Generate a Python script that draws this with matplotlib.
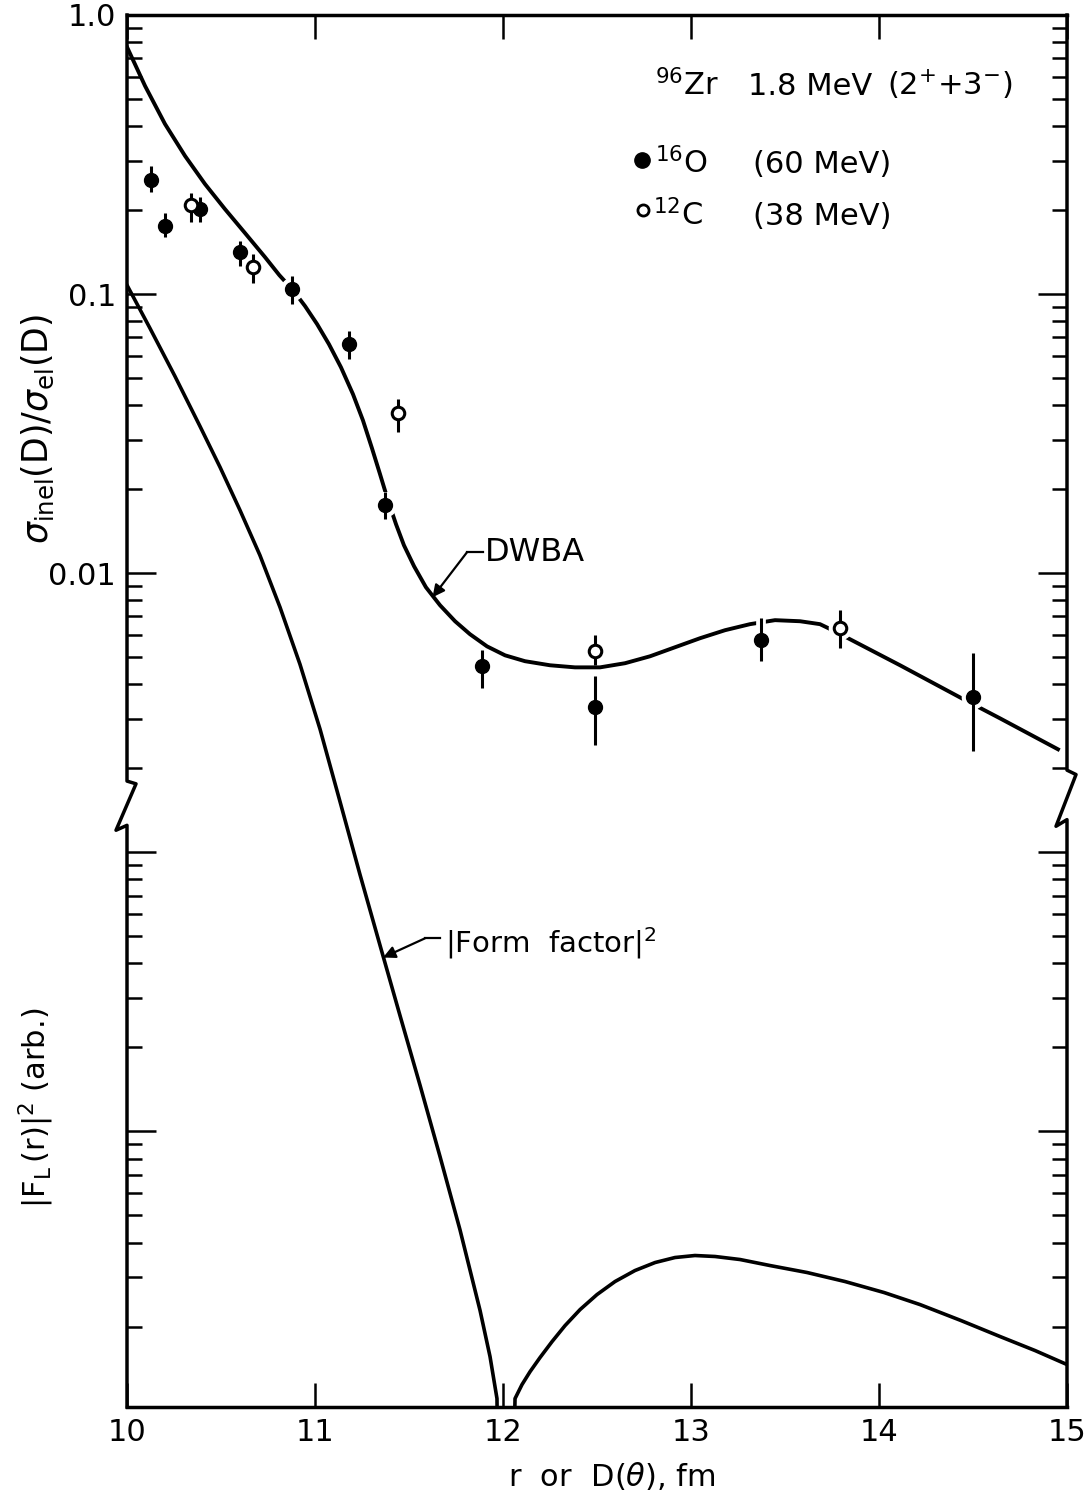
import matplotlib.pyplot as plt
import matplotlib.patheffects as pe
import numpy as np
from matplotlib.ticker import FixedLocator, LogLocator, NullFormatter

# DWBA ratio curve, sigma_inel/sigma_el vs D (fm)
dwba_r = [10.0, 10.096, 10.202, 10.309, 10.415, 10.521, 10.628, 10.734, 10.81,
          10.883, 10.947, 11.011, 11.074, 11.138, 11.202, 11.255, 11.303, 11.346,
          11.388, 11.431, 11.473, 11.527, 11.590, 11.665, 11.745, 11.824, 11.915,
          12.011, 12.117, 12.250, 12.383, 12.516, 12.649, 12.782, 12.915, 13.048,
          13.181, 13.314, 13.447, 13.580, 13.686, 13.766, 13.846, 14.112, 14.431,
          14.644, 14.952]
dwba_ratio = [0.768, 0.557, 0.407, 0.3124, 0.2479, 0.2017, 0.1654, 0.1357, 0.117,
              0.1033, 0.0906, 0.0781, 0.0662, 0.0547, 0.0438, 0.0353, 0.02805,
              0.02263, 0.01826, 0.01498, 0.0126, 0.01059, 0.00891, 0.00768, 0.00673,
              0.00605, 0.00547, 0.00508, 0.00484, 0.00468, 0.0046, 0.0046, 0.00476,
              0.00504, 0.00543, 0.00585, 0.00625, 0.00657, 0.00679, 0.00673, 0.00657,
              0.00619, 0.0058, 0.00468, 0.00359, 0.00302, 0.00234]

# |form factor|^2 (arbitrary units), node at r = 12 fm
ff_r = [10.0, 10.122, 10.255, 10.388, 10.495, 10.601, 10.707, 10.814, 10.920,
        11.027, 11.133, 11.239, 11.346, 11.452, 11.559, 11.665, 11.771, 11.878,
        11.931, 11.968, 12.0, 12.064, 12.101, 12.144, 12.197, 12.261, 12.330,
        12.410, 12.5, 12.596, 12.702, 12.809, 12.915, 13.021, 13.128, 13.261,
        13.420, 13.617, 13.819, 14.027, 14.218, 14.436, 14.644, 14.830, 15.0]
ff_val = [0.1077, 0.0755, 0.0508, 0.03364, 0.02398, 0.01682, 0.0116, 0.00755,
          0.00472, 0.00276, 0.00152, 8.34e-4, 4.64e-4, 2.604e-4, 1.462e-4,
          8.13e-5, 4.45e-5, 2.283e-5, 1.561e-5, 1.104e-5, 1e-7, 1.104e-5,
          1.239e-5, 1.379e-5, 1.549e-5, 1.767e-5, 2.016e-5, 2.301e-5, 2.604e-5,
          2.9e-5, 3.175e-5, 3.392e-5, 3.535e-5, 3.594e-5, 3.565e-5, 3.477e-5,
          3.309e-5, 3.124e-5, 2.9e-5, 2.648e-5, 2.398e-5, 2.102e-5, 1.842e-5,
          1.641e-5, 1.462e-5]

# 16O (60 MeV) data with error bar ends
o16_d = [10.13, 10.20, 10.39, 10.60, 10.88, 11.18, 11.37, 11.89, 12.49, 13.37, 14.50]
o16_ratio = [0.257, 0.175, 0.201, 0.141, 0.104, 0.0663, 0.0176, 0.00465, 0.00332,
             0.00576, 0.0036]
o16_lo = [0.233, 0.160, 0.181, 0.126, 0.092, 0.0586, 0.0156, 0.00388, 0.00243,
          0.00485, 0.00231]
o16_hi = [0.287, 0.196, 0.222, 0.155, 0.116, 0.0738, 0.0196, 0.0053, 0.00429,
          0.0069, 0.00518]

# 12C (38 MeV) data
c12_d = [10.34, 10.67, 11.44, 12.49, 13.79]
c12_ratio = [0.208, 0.125, 0.0375, 0.00527, 0.00637]
c12_lo = [0.182, 0.110, 0.032, 0.00469, 0.0054]
c12_hi = [0.231, 0.139, 0.042, 0.0060, 0.00738]

x_ticks = [10, 11, 12, 13, 14, 15]
y_ticks = [1e-4, 1e-3, 1e-2, 1e-1, 1.0]
y_tick_labels = ["", "", "0.01", "0.1", "1.0"]

plt.rcParams["font.family"] = "DejaVu Sans"
plt.rcParams["mathtext.fontset"] = "dejavusans"

fig = plt.figure(figsize=(10.84, 14.99), dpi=100)
ax = fig.add_axes([127 / 1084, 1 - 1407 / 1499, 940 / 1084, 1392 / 1499])
ax.set_yscale("log")
ax.set_xlim(10, 15)
ax.set_ylim(1.03e-5, 1.0)

# curves
ax.plot(dwba_r, dwba_ratio, color="black", lw=2.8, zorder=2,
        solid_joinstyle="round")
ax.plot(ff_r, ff_val, color="black", lw=2.6, zorder=2, solid_joinstyle="round")

# white halos so the curve is broken around the data points
all_d = o16_d + c12_d
all_ratio = o16_ratio + c12_ratio
ax.plot(all_d, all_ratio, linestyle="none", marker="o", ms=16,
        mfc="white", mec="white", zorder=3)

halo = [pe.withStroke(linewidth=7, foreground="white")]
o16_err = [np.array(o16_ratio) - np.array(o16_lo), np.array(o16_hi) - np.array(o16_ratio)]
c12_err = [np.array(c12_ratio) - np.array(c12_lo), np.array(c12_hi) - np.array(c12_ratio)]
for d, v, err in [(o16_d, o16_ratio, o16_err), (c12_d, c12_ratio, c12_err)]:
    eb = ax.errorbar(d, v, yerr=err, fmt="none", ecolor="black", elinewidth=2.2,
                     capsize=0, zorder=4)
    for col in eb[2]:
        col.set_path_effects(halo)
ax.plot(o16_d, o16_ratio, linestyle="none", marker="o", ms=10,
        mfc="black", mec="black", zorder=5)
ax.plot(c12_d, c12_ratio, linestyle="none", marker="o", ms=9,
        mfc="white", mec="black", mew=2.2, zorder=5)

# axes frame with the broken vertical axes
for side in ["left", "right"]:
    ax.spines[side].set_visible(False)
for side in ["top", "bottom"]:
    ax.spines[side].set_linewidth(2.5)
ytr = ax.get_yaxis_transform()
ax.plot([0, 0, 0.0096, -0.0117, 0, 0], [1.0, 1.8e-3, 1.76e-3, 1.2e-3, 1.25e-3, 1.03e-5],
        transform=ytr, color="black", lw=2.5, clip_on=False, zorder=6)
ax.plot([1, 1, 1.0096, 0.9883, 1, 1], [1.0, 1.97e-3, 1.9e-3, 1.24e-3, 1.31e-3, 1.03e-5],
        transform=ytr, color="black", lw=2.5, clip_on=False, zorder=6)

ax.set_xticks(x_ticks)
ax.set_xticklabels([str(t) for t in x_ticks])
ax.yaxis.set_major_locator(FixedLocator(y_ticks))
ax.set_yticklabels(y_tick_labels)
ax.yaxis.set_minor_locator(LogLocator(base=10, subs=np.arange(2, 10), numticks=20))
ax.yaxis.set_minor_formatter(NullFormatter())
ax.tick_params(axis="x", which="major", direction="in", length=17, width=1.8,
               top=True, bottom=True, labelsize=22, pad=8)
ax.tick_params(axis="y", which="major", direction="in", length=21, width=1.8,
               left=True, right=True, labelsize=22, pad=8)
ax.tick_params(axis="y", which="minor", direction="in", length=11, width=1.8,
               left=True, right=True)

# axis labels
ax.text(-0.095, 0.7026, r"$\sigma_{\mathrm{inel}}(\mathrm{D})/\sigma_{\mathrm{el}}(\mathrm{D})$",
        transform=ax.transAxes, rotation=90, ha="center", va="center", fontsize=25)
ax.text(-0.097, 0.2148, r"$|\mathrm{F}_{\mathrm{L}}\,(\mathrm{r})|^{2}$ (arb.)",
        transform=ax.transAxes, rotation=90, ha="center", va="center", fontsize=22)
ax.text(0.516, -0.0496, r"r  or  D($\theta$), fm", transform=ax.transAxes,
        ha="center", va="center", fontsize=22)

# key in the upper right
ax.text(0.5617, 0.9425, r"$^{96}$Zr", transform=ax.transAxes, fontsize=22, va="baseline")
ax.text(0.6606, 0.9425, "1.8 MeV", transform=ax.transAxes, fontsize=22, va="baseline")
ax.text(0.8085, 0.9425, r"(2$^{+}$+3$^{-}$)", transform=ax.transAxes, fontsize=22,
        va="baseline")
ax.plot([0.5479], [0.8958], transform=ax.transAxes, marker="o", ms=11,
        mfc="black", mec="black", clip_on=False)
ax.text(0.5617, 0.8865, r"$^{16}$O", transform=ax.transAxes, fontsize=22, va="baseline")
ax.text(0.666, 0.8865, "(60 MeV)", transform=ax.transAxes, fontsize=22, va="baseline")
ax.plot([0.5489], [0.8599], transform=ax.transAxes, marker="o", ms=8,
        mfc="white", mec="black", mew=2, clip_on=False)
ax.text(0.5596, 0.8491, r"$^{12}$C", transform=ax.transAxes, fontsize=22, va="baseline")
ax.text(0.666, 0.8491, "(38 MeV)", transform=ax.transAxes, fontsize=22, va="baseline")

# curve labels with arrows
ax.text(11.904, 0.0119, "DWBA", fontsize=23, ha="left", va="center")
ax.plot([11.809, 11.894], [0.0119, 0.0119], color="black", lw=1.6)
ax.annotate("", xy=(11.625, 0.0082), xytext=(11.809, 0.0119),
            arrowprops=dict(arrowstyle="-|>", color="black", lw=1.6,
                            shrinkA=0, shrinkB=0, mutation_scale=18))
ax.text(11.69, 4.72e-4, r"|Form  factor|$^{2}$", fontsize=21, ha="left", va="center")
ax.plot([11.585, 11.665], [4.92e-4, 4.92e-4], color="black", lw=1.6)
ax.annotate("", xy=(11.362, 4.2e-4), xytext=(11.585, 4.92e-4),
            arrowprops=dict(arrowstyle="-|>", color="black", lw=1.6,
                            shrinkA=0, shrinkB=0, mutation_scale=18))

fig.savefig("out.png", dpi=100)
plt.close(fig)
